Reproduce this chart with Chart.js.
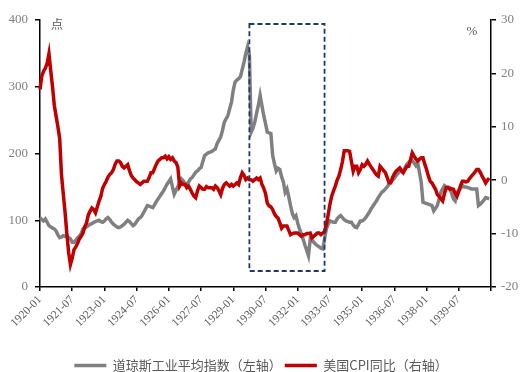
<!DOCTYPE html>
<html>
<head>
<meta charset="utf-8">
<script src="https://cdn.jsdelivr.net/npm/chart.js@4.4.1/dist/chart.umd.min.js"></script>
<style>
	html, body { margin: 0; padding: 0; background: #fff; }
</style>
</head>
<body>
<canvas id="cnv_djia_cpi" width="522" height="372"></canvas>
<script>
const firstYear = 1920;
const lastYear = 1940;

// Monthly categories 1920-01 … 1940-12, plus 1941-01 to close the axis
const months = [];
for (let y = firstYear; y <= lastYear; y++) {
	for (let m = 1; m <= 12; m++) months.push(`${y}-${String(m).padStart(2, '0')}`);
}
months.push(`${lastYear + 1}-01`);
const labelEvery = 18;

// Dow Jones Industrial Average, monthly (points)
const djia = [
	104, 101, 99, 102, 97, 92, 90, 88, 87, 84, 78, 74, // 1920
	75, 77, 76, 77, 74, 72, 67, 67, 70, 74, 76, 80, // 1921
	87, 88, 90, 92, 94, 95, 97, 98, 99, 100, 98, 97, // 1922
	99, 102, 104, 101, 97, 94, 92, 90, 89, 90, 92, 94, // 1923
	97, 100, 98, 95, 92, 94, 98, 102, 104, 107, 112, 117, // 1924
	122, 121, 120, 119, 123, 128, 132, 136, 140, 144, 149, 154, // 1925
	158, 162, 150, 139, 145, 150, 156, 162, 159, 155, 154, 157, // 1926
	162, 164, 168, 172, 174, 177, 179, 188, 197, 199, 201, 202, // 1927
	203, 205, 207, 215, 220, 225, 235, 247, 252, 257, 267, 277, // 1928
	295, 307, 310, 312, 315, 326, 337, 350, 360, 348, 232, 238, // 1929
	247, 260, 272, 287, 272, 257, 245, 232, 231, 230, 197, 185, // 1930
	174, 178, 176, 165, 157, 142, 147, 135, 122, 110, 104, 107, // 1931
	96, 87, 80, 72, 63, 55, 47, 72, 70, 67, 64, 62, // 1932
	60, 58, 57, 72, 87, 94, 99, 98, 97, 97, 102, 105, // 1933
	107, 104, 101, 99, 98, 97, 97, 93, 90, 89, 94, 99, // 1934
	99, 101, 104, 108, 112, 117, 121, 125, 129, 134, 138, 142, // 1935
	144, 147, 150, 154, 157, 160, 163, 167, 170, 174, 173, 174, // 1936
	179, 184, 187, 188, 189, 186, 182, 187, 172, 157, 127, 126, // 1937
	125, 124, 123, 122, 114, 118, 122, 132, 142, 147, 152, 150, // 1938
	150, 149, 140, 132, 129, 142, 145, 148, 152, 150, 150, 149, // 1939
	148, 147, 147, 147, 147, 122, 124, 127, 130, 134, 133, 132 // 1940
];

// US CPI, year over year (%)
const cpi = [
	17.0, 19.5, 20.4, 21.0, 21.9, 23.7, 20.5, 17.5, 14.0, 12.0, 10.0, 7.8, // 1920
	1.0, -2.5, -6.0, -10.0, -13.5, -15.8, -14.6, -13.0, -12.5, -11.8, -11.0, -10.5, // 1921
	-9.9, -8.7, -8.0, -6.5, -5.8, -5.2, -5.5, -6.1, -5.0, -3.9, -3.0, -1.5, // 1922
	-0.8, -0.2, 0.6, 1.1, 1.4, 2.0, 3.0, 3.6, 3.6, 3.3, 2.6, 2.3, // 1923
	2.6, 2.9, 1.8, 0.9, 0.4, 0.1, -0.3, -0.5, -0.8, -0.5, -0.2, -0.2, // 1924
	-0.2, 0.5, 1.4, 1.4, 2.2, 3.0, 3.6, 3.9, 4.2, 4.2, 4.5, 4.0, // 1925
	4.4, 3.9, 4.2, 3.6, 3.3, 2.5, -1.1, -0.5, -0.8, -0.8, -1.4, -1.1, // 1926
	-1.7, -2.4, -3.0, -3.3, -2.0, -1.1, -1.4, -1.7, -1.7, -1.2, -1.4, -1.4, // 1927
	-1.4, -1.7, -1.1, -1.4, -2.0, -2.7, -1.5, -0.8, -0.5, -0.8, -1.1, -0.8, // 1928
	-1.1, -0.8, -0.5, -0.8, 0.5, 1.4, 0.9, 0.1, 0.4, 0.1, 0.1, -0.2, // 1929
	0.1, 0.4, 0.1, 0.4, -0.8, -1.5, -2.5, -4.3, -4.8, -5.0, -5.5, -6.3, // 1930
	-6.8, -7.1, -8.0, -9.0, -8.6, -8.6, -8.6, -9.4, -10.2, -10.0, -9.9, -9.9, // 1931
	-9.9, -10.2, -10.5, -10.2, -10.2, -10.0, -10.0, -9.9, -10.8, -10.5, -10.2, -9.9, // 1932
	-9.9, -10.2, -9.9, -9.6, -8.3, -6.5, -4.5, -3.0, -2.0, -1.1, 0.0, 0.75, // 1933
	2.0, 3.5, 5.5, 5.5, 5.5, 5.4, 3.5, 1.7, 2.6, 2.6, 1.4, 2.0, // 1934
	2.9, 2.6, 3.0, 3.6, 3.0, 2.5, 2.0, 1.5, 1.0, 0.75, 2.6, 2.2, // 1935
	1.8, 1.4, 0.5, -0.5, -0.5, 0.5, 1.2, 1.7, 2.0, 2.3, 1.8, 1.4, // 1936
	2.0, 2.6, 2.6, 3.8, 5.1, 4.5, 4.0, 3.6, 3.9, 4.2, 4.2, 3.0, // 1937
	2.0, 0.8, -0.2, -0.5, -1.1, -1.7, -2.7, -3.0, -3.5, -3.9, -2.5, -1.4, // 1938
	-1.4, -1.7, -1.6, -1.7, -2.5, -3.0, -2.1, -1.0, -0.2, -0.2, -0.3, -0.2, // 1939
	0.3, 0.7, 1.1, 1.5, 2.0, 2.0, 1.5, 0.75, 0.2, -0.5, 0.0, 0.4 // 1940
];

const leftRange = [0, 400, 100];
const rightRange = [-20, 30, 10];

// Great Depression window marked with a dashed box (left-axis values)
const crashFrom = '1929-10';
const crashTo = '1933-04';
const crashLow = 24;
const crashHigh = 394;

const serif = '"Liberation Serif", "Times New Roman", serif';
const cjk = '"Noto Sans CJK SC", sans-serif';

const crashBox = {
	id: 'crashBox',
	afterDatasetsDraw(chart) {
		const { ctx, scales: { x, y } } = chart;
		const x1 = x.getPixelForValue(months.indexOf(crashFrom));
		const x2 = x.getPixelForValue(months.indexOf(crashTo));
		const y1 = y.getPixelForValue(crashHigh);
		const y2 = y.getPixelForValue(crashLow);
		ctx.save();
		ctx.setLineDash([5, 3]);
		ctx.lineWidth = 1.8;
		ctx.strokeStyle = '#1F3864';
		ctx.strokeRect(x1, y1, x2 - x1, y2 - y1);
		ctx.restore();
	}
};

// unit captions under the top of each axis
const unitLabels = {
	id: 'unitLabels',
	afterDraw(chart) {
		const { ctx, chartArea } = chart;
		ctx.save();
		ctx.fillStyle = '#595959';
		ctx.textAlign = 'center';
		ctx.textBaseline = 'middle';
		ctx.font = `12px ${cjk}`;
		ctx.fillText('点', chartArea.left + 17, chartArea.top + 4);
		ctx.font = `13px ${serif}`;
		ctx.fillText('%', chartArea.right - 19, chartArea.top + 12);
		ctx.restore();
	}
};

const axisGrid = { drawOnChartArea: false, drawTicks: true, tickLength: 5, color: '#000', lineWidth: 1.5 };
const axisBorder = { display: true, color: '#000', width: 1.5 };

new Chart(document.getElementById('cnv_djia_cpi'), {
	type: 'line',
	plugins: [crashBox, unitLabels],
	data: {
		labels: months,
		datasets: [{
			label: '道琼斯工业平均指数（左轴）',
			data: djia,
			yAxisID: 'y',
			borderColor: '#808080',
			backgroundColor: '#808080',
			borderWidth: 3.5,
			order: 1
		}, {
			label: '美国CPI同比（右轴）',
			data: cpi,
			yAxisID: 'y1',
			borderColor: '#C00000',
			backgroundColor: '#C00000',
			borderWidth: 3.5,
			order: 0
		}]
	},
	options: {
		responsive: false,
		animation: false,
		devicePixelRatio: 1,
		elements: { point: { radius: 0 }, line: { tension: 0 } },
		layout: { padding: { top: 20, left: 0, right: 0, bottom: -10 } },
		plugins: {
			tooltip: { enabled: false },
			legend: {
				position: 'bottom',
				labels: {
					usePointStyle: true,
					pointStyle: 'line',
					pointStyleWidth: 32,
					color: '#595959',
					font: { family: cjk, size: 13 },
					padding: 3,
					sort: (a, b) => a.datasetIndex - b.datasetIndex
				}
			}
		},
		scales: {
			x: {
				offset: false,
				grid: { ...axisGrid, tickLength: 4 },
				border: axisBorder,
				afterFit: (scale) => { scale.height = 69; },
				ticks: {
					autoSkip: false,
					maxRotation: 45,
					minRotation: 45,
					padding: 2,
					color: '#595959',
					font: { family: serif, size: 11.5 },
					callback: (value, index) => {
						if (index === months.length - 1) return '';
						return index % labelEvery === 0 ? months[index] : null;
					}
				}
			},
			y: {
				position: 'left',
				min: leftRange[0],
				max: leftRange[1],
				grid: axisGrid,
				border: axisBorder,
				afterFit: (scale) => { scale.width = 40; },
				ticks: {
					stepSize: leftRange[2],
					padding: 7,
					color: '#7f7f7f',
					font: { family: serif, size: 13 }
				}
			},
			y1: {
				position: 'right',
				min: rightRange[0],
				max: rightRange[1],
				grid: axisGrid,
				border: axisBorder,
				afterFit: (scale) => { scale.width = 31; },
				ticks: {
					stepSize: rightRange[2],
					padding: 5,
					color: '#7f7f7f',
					font: { family: serif, size: 13 }
				}
			}
		}
	}
});
</script>
</body>
</html>
